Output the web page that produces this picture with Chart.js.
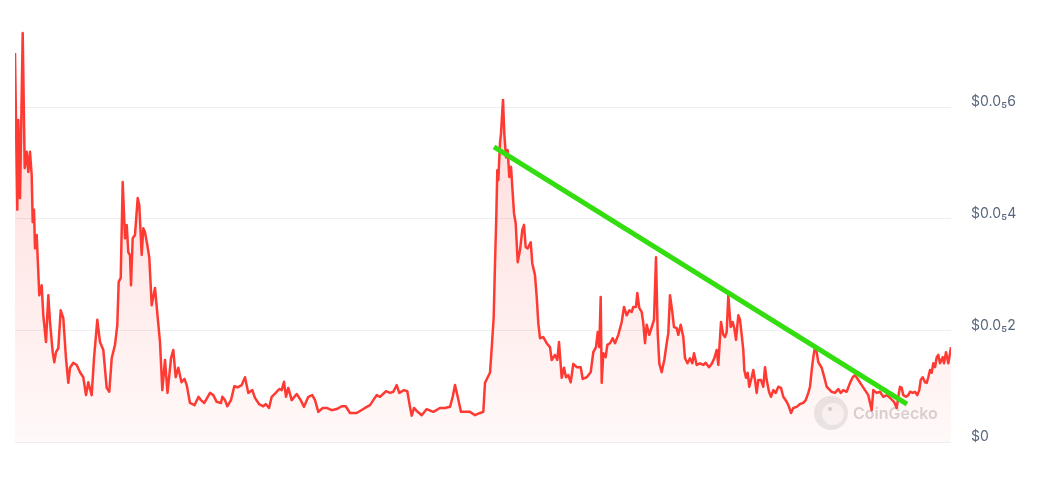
<!DOCTYPE html>
<html>
<head>
<meta charset="utf-8">
<script src="https://cdn.jsdelivr.net/npm/chart.js@4/dist/chart.umd.min.js"></script>
<style>
  html, body { margin: 0; padding: 0; background: #fff; }
  #wrap { width: 1057px; height: 477px; position: relative; }
</style>
</head>
<body>
<div id="wrap"><canvas id="priceChart"></canvas></div>
<script>
// time axis: day offset from the start of the range
const days = [
  0, 2.3, 3.3, 5, 7.7, 9.7, 11.7, 13.3, 15, 16.7,
  17.7, 19, 20, 21.7, 24.3, 26.7, 28.3, 31, 33.3, 35,
  37.7, 39.3, 41, 43.3, 45.7, 48.3, 51, 53.3, 55, 58.3,
  61.7, 65, 68.3, 71, 73.3, 76.7, 79, 82.3, 85, 88.3,
  91.7, 94.3, 96.7, 100, 102.3, 103.7, 105.7, 107.7, 110, 111.7,
  113.3, 115, 116, 117.7, 120, 122.7, 124.3, 126.7, 128.3, 130,
  132.3, 134.3, 136.7, 140, 142.3, 145, 147.3, 150, 152.5, 156,
  158.3, 160.7, 163.3, 166.5, 169.5, 171.7, 175, 179.5, 183.5, 186,
  189.3, 195, 198.3, 201.7, 206, 207.3, 210, 212.3, 216, 219.3,
  222.7, 226.7, 230, 233.3, 237.3, 240, 244, 248.3, 250.7, 254,
  256.7, 260.7, 264.3, 266.7, 269, 271, 273.3, 276.7, 281.7, 285.7,
  289, 293.3, 297.3, 300, 303.3, 307.7, 311.7, 316.7, 321.7, 326.7,
  330.7, 335, 341.7, 350, 355, 358.3, 361.7, 365, 371, 375,
  378.3, 381.7, 384.3, 389, 392.3, 395, 396.7, 399, 402, 406.7,
  411.7, 418.3, 425, 430, 435, 437.7, 440, 442.7, 446, 450,
  455, 460, 465, 468.3, 470, 472.7, 475, 476.7, 478.7, 480,
  481.3, 482.3, 483.3, 485, 486, 488, 489.3, 491, 492.7, 494.3,
  496, 497.3, 499, 500.7, 502.7, 505, 507.3, 509, 510.7, 512.7,
  515.7, 517.3, 520, 521.7, 523.3, 525, 528.3, 531.7, 535, 536.7,
  540, 542.3, 544, 546.7, 549, 551, 553.3, 555.7, 558.3, 561.7,
  565.7, 567.7, 571.7, 575.7, 578.3, 581, 582.7, 584.3, 585.7, 586.7,
  588.3, 590.7, 592.3, 595, 597.7, 600, 603.3, 606.7, 609, 611.7,
  614.3, 616.7, 618.3, 621, 622.3, 624.3, 626.7, 628.3, 630, 631.7,
  634.3, 636.7, 639, 641, 642.7, 644.3, 646.7, 649.3, 651.7, 653.3,
  655, 657.3, 659, 661.7, 663.3, 665.7, 668.3, 670, 672.5, 675,
  677.3, 679, 681.7, 685, 688.3, 690.7, 694, 696.7, 699.3, 701.7,
  703.3, 706, 708.3, 710, 711.7, 713.3, 715.7, 717.7, 719.3, 721,
  723.3, 725, 726.7, 728.3, 729.3, 731, 732.7, 734.3, 736.7, 738.3,
  740, 741.7, 743.3, 746, 748.3, 750, 751.7, 754, 756, 758.3,
  760.7, 763.3, 766, 768.3, 771.7, 774, 776, 778.3, 781.7, 785,
  788.3, 790.7, 793.3, 795, 796.7, 798.3, 800, 801.7, 803.3, 806.7,
  809, 811.7, 816.7, 820, 823.3, 825.7, 828.3, 831.7, 835, 837.7,
  840, 843.3, 846.7, 850, 853.3, 856.7, 858.3, 861.7, 865, 868.3,
  871.7, 875, 879, 881.7, 883.3, 885, 886.7, 888.3, 891, 893.3,
  895, 897.7, 900, 902.3, 904.3, 905.7, 907.7, 910, 911.7, 913.3,
  915, 916.7, 918.3, 920, 921.7, 923.3, 925, 927.7, 929, 931,
  933.3, 935, 936
];

// price in millionths of a dollar (1 = $0.000001)
const prices = [
  6.97, 4.16, 5.77, 4.37, 7.33, 4.91, 5.2, 4.84, 5.2, 4.78,
  3.94, 4.16, 3.47, 3.71, 2.63, 2.81, 2.27, 1.79, 2.63, 2.15,
  1.61, 1.43, 1.61, 1.68, 2.36, 2.22, 1.5, 1.06, 1.33, 1.42,
  1.38, 1.25, 1.16, 0.84, 1.07, 0.84, 1.5, 2.19, 1.79, 1.65,
  0.97, 0.9, 1.5, 1.74, 2.1, 2.87, 2.94, 4.66, 3.65, 3.89,
  3.4, 3.35, 2.81, 3.65, 3.71, 4.37, 4.24, 3.35, 3.83, 3.76,
  3.53, 3.3, 2.45, 2.76, 2.31, 1.79, 0.93, 1.47, 0.88, 1.5,
  1.65, 1.16, 1.33, 1.07, 1.13, 1.02, 0.7, 0.66, 0.81, 0.75,
  0.7, 0.88, 0.84, 0.72, 0.7, 0.81, 0.75, 0.64, 0.75, 1.0,
  0.98, 1.02, 1.16, 0.88, 0.93, 0.79, 0.68, 0.64, 0.68, 0.61,
  0.81, 0.88, 0.95, 0.93, 1.08, 0.81, 0.97, 0.75, 0.86, 0.75,
  0.63, 0.81, 0.84, 0.75, 0.54, 0.61, 0.61, 0.57, 0.59, 0.64,
  0.64, 0.52, 0.52, 0.61, 0.66, 0.75, 0.84, 0.81, 0.91, 0.88,
  0.9, 1.02, 0.88, 0.93, 0.91, 0.63, 0.47, 0.61, 0.55, 0.48,
  0.59, 0.54, 0.61, 0.61, 0.63, 0.81, 1.02, 0.81, 0.54, 0.54,
  0.54, 0.48, 0.52, 0.54, 1.06, 1.16, 1.24, 1.68, 2.24, 3.2,
  4.03, 4.87, 4.69, 5.36, 5.53, 6.13, 5.53, 5.1, 5.23, 4.75,
  4.93, 4.57, 4.1, 3.92, 3.22, 3.44, 3.8, 3.89, 3.49, 3.47,
  3.58, 3.2, 2.99, 2.6, 2.13, 1.86, 1.88, 1.77, 1.7, 1.47,
  1.56, 1.47, 1.79, 1.15, 1.33, 1.16, 1.2, 1.07, 1.4, 1.34,
  1.34, 1.13, 1.16, 1.25, 1.61, 1.7, 1.97, 1.7, 2.6, 1.06,
  1.59, 1.52, 1.74, 1.77, 1.86, 1.77, 1.92, 2.15, 2.42, 2.27,
  2.36, 2.33, 2.42, 2.42, 2.67, 2.4, 2.33, 2.13, 1.77, 2.1,
  1.92, 2.06, 2.19, 3.31, 1.95, 1.41, 1.25, 1.47, 1.77, 1.95,
  2.63, 2.33, 2.06, 2.04, 1.92, 2.1, 1.88, 1.5, 1.41, 1.5,
  1.41, 1.59, 1.38, 1.41, 1.38, 1.42, 1.34, 1.4, 1.5, 1.65,
  1.38, 2.15, 1.92, 1.88, 1.97, 2.63, 2.06, 2.15, 2.04, 1.83,
  2.27, 2.19, 1.92, 1.65, 1.29, 1.15, 1.24, 0.99, 1.16, 1.29,
  1.11, 0.88, 1.11, 1.11, 0.99, 1.34, 1.11, 0.9, 0.81, 0.93,
  0.88, 0.99, 0.97, 0.81, 0.72, 0.63, 0.52, 0.61, 0.63, 0.68,
  0.7, 0.75, 0.88, 0.99, 1.29, 1.52, 1.7, 1.61, 1.43, 1.33,
  1.18, 0.99, 0.9, 0.88, 0.95, 0.88, 0.93, 0.9, 1.06, 1.16,
  1.2, 1.11, 1.02, 0.93, 0.84, 0.57, 0.93, 0.88, 0.9, 0.81,
  0.84, 0.79, 0.72, 0.61, 0.81, 0.99, 0.97, 0.84, 0.81, 0.84,
  0.9, 0.88, 0.9, 0.84, 0.93, 1.11, 1.16, 1.07, 1.06, 1.16,
  1.29, 1.24, 1.41, 1.34, 1.52, 1.56, 1.41, 1.52, 1.41, 1.61,
  1.41, 1.59, 1.7
];

// hand drawn downtrend line (start / end)
const trendDays = [479, 892];
const trendPrices = [5.29, 0.68];

const yTicks = [0, 2, 4, 6];

function tickLabel(v) {
  if (v === 0) return '$0';
  return '$0.0\u2085' + v; // 0.00000x -> 0.0₅x
}

// CoinGecko watermark behind the line
const watermark = {
  id: 'watermark',
  beforeDatasetsDraw(chart) {
    const ctx = chart.ctx;
    const area = chart.chartArea;
    const cx = area.right - 120, cy = area.bottom - 29;
    ctx.save();
    ctx.fillStyle = 'rgba(215,215,215,0.55)';
    ctx.beginPath(); ctx.arc(cx, cy, 17, 0, Math.PI * 2); ctx.fill();
    ctx.fillStyle = 'rgba(255,255,255,0.7)';
    ctx.beginPath(); ctx.arc(cx + 2, cy + 1, 11, 0, Math.PI * 2); ctx.fill();
    ctx.fillStyle = 'rgba(200,200,200,0.8)';
    ctx.beginPath(); ctx.arc(cx - 1, cy - 4, 2, 0, Math.PI * 2); ctx.fill();
    ctx.font = '600 16px Inter';
    ctx.fillStyle = 'rgba(200,200,200,0.75)';
    ctx.textBaseline = 'middle';
    ctx.fillText('CoinGecko', cx + 22, cy + 1);
    ctx.restore();
  }
};

window.renderChart = function() {
  const ctx = document.getElementById('priceChart').getContext('2d');
  const pts = days.map((d, i) => ({ x: d, y: prices[i] }));
  const trend = trendDays.map((d, i) => ({ x: d, y: trendPrices[i] }));

  new Chart(ctx, {
    type: 'line',
    data: {
      datasets: [
        {
          data: trend,
          borderColor: '#33dd0f',
          borderWidth: 5,
          pointRadius: 0,
          fill: false,
          borderCapStyle: 'butt'
        },
        {
          data: pts,
          borderColor: '#ff3a33',
          borderWidth: 2.5,
          pointRadius: 0,
          tension: 0,
          borderJoinStyle: 'round',
          fill: 'origin',
          backgroundColor: function(c) {
            const a = c.chart.chartArea;
            if (!a) return 'rgba(255,58,51,0.1)';
            const g = c.chart.ctx.createLinearGradient(0, a.top, 0, a.bottom);
            g.addColorStop(0, 'rgba(255,58,51,0.22)');
            g.addColorStop(1, 'rgba(255,58,51,0.03)');
            return g;
          }
        }
      ]
    },
    options: {
      responsive: true,
      maintainAspectRatio: false,
      animation: false,
      layout: { padding: { left: 15, top: 0, bottom: 35, right: 0 } },
      plugins: { legend: { display: false }, tooltip: { enabled: false } },
      scales: {
        x: { type: 'linear', min: 0, max: 936, display: false },
        y: {
          position: 'right',
          min: 0,
          max: 7.92,
          afterBuildTicks: s => { s.ticks = yTicks.map(v => ({ value: v })); },
          afterFit: s => { s.width = 106; s.paddingTop = 0; s.paddingBottom = 0; },
          border: { display: false },
          grid: { color: '#eeeeee', drawTicks: false },
          ticks: {
            padding: 20,
            labelOffset: -5,
            color: '#58667e',
            font: { family: 'Inter', size: 14 },
            callback: tickLabel
          }
        }
      }
    },
    plugins: [watermark]
  });
}

window.onload = window.renderChart;
</script>
</body>
</html>
